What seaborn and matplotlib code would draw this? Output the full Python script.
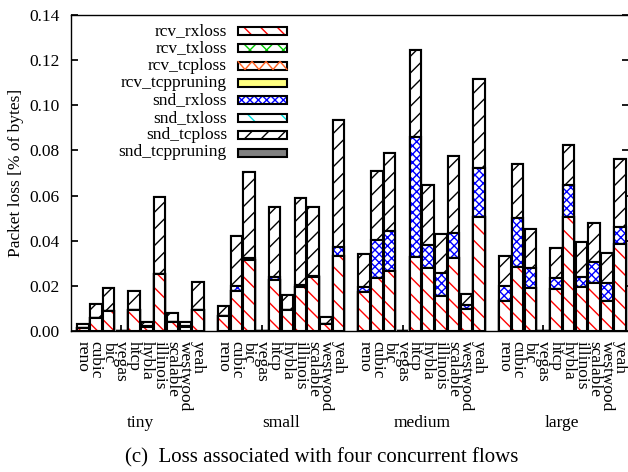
import numpy as np
import pandas as pd
import matplotlib
matplotlib.use("Agg")
import matplotlib.pyplot as plt
import matplotlib.transforms as mtransforms
from matplotlib.patches import Rectangle
from matplotlib.lines import Line2D
from matplotlib.ticker import FormatStrFormatter
import seaborn as sns

# ---------------- data ----------------
sizes = ["tiny", "small", "medium", "large"]
algorithms = ["reno", "cubic", "bic", "vegas", "htcp", "hybla",
              "illinois", "scalable", "westwood", "yeah"]

# values per (size, algorithm), size-major order (10 per size)
rcv_rxloss = [
    0.0015, 0.0058, 0.0089, 0.0, 0.0093, 0.0017, 0.0253, 0.0040, 0.0018, 0.0093,
    0.0066, 0.0178, 0.0315, 0.0, 0.0225, 0.0093, 0.0195, 0.0240, 0.0030, 0.0333,
    0.0174, 0.0236, 0.0266, 0.0, 0.0328, 0.0277, 0.0155, 0.0322, 0.0097, 0.0505,
    0.0134, 0.0284, 0.0191, 0.0, 0.0186, 0.0505, 0.0196, 0.0213, 0.0134, 0.0387,
]
rcv_txloss = [0.0] * 40
rcv_tcploss = [0.0] * 40
rcv_tcppruning = [0.0] * 40
snd_rxloss = [
    0.0, 0.0, 0.0, 0.0, 0.0, 0.0005, 0.0, 0.0, 0.0005, 0.0,
    0.0, 0.0020, 0.0010, 0.0, 0.0015, 0.0, 0.0008, 0.0003, 0.0, 0.0040,
    0.0022, 0.0166, 0.0176, 0.0, 0.0530, 0.0106, 0.0104, 0.0112, 0.0018, 0.0216,
    0.0066, 0.0218, 0.0086, 0.0, 0.0050, 0.0140, 0.0044, 0.0093, 0.0079, 0.0074,
]
snd_txloss = [0.0] * 40
snd_tcploss = [
    0.0015, 0.0062, 0.0102, 0.0, 0.0086, 0.0016, 0.0341, 0.0041, 0.0017, 0.0124,
    0.0046, 0.0222, 0.0380, 0.0, 0.0309, 0.0066, 0.0386, 0.0306, 0.0033, 0.0562,
    0.0143, 0.0306, 0.0347, 0.0, 0.0385, 0.0266, 0.0169, 0.0343, 0.0051, 0.0395,
    0.0131, 0.0239, 0.0174, 0.0, 0.0132, 0.0177, 0.0155, 0.0172, 0.0133, 0.0300,
]
snd_tcppruning = [0.0] * 40

series_names = ["rcv_rxloss", "rcv_txloss", "rcv_tcploss", "rcv_tcppruning",
                "snd_rxloss", "snd_txloss", "snd_tcploss", "snd_tcppruning"]
series_values = [rcv_rxloss, rcv_txloss, rcv_tcploss, rcv_tcppruning,
                 snd_rxloss, snd_txloss, snd_tcploss, snd_tcppruning]

# style: (face colour, hatch colour, hatch)
styles = {
    "rcv_rxloss": ("white", "#ff0000", r"\\"),
    "rcv_txloss": ("white", "#00c800", "xx"),
    "rcv_tcploss": ("white", "#ff6020", None),
    "rcv_tcppruning": ("#ffff80", "#ffff80", None),
    "snd_rxloss": ("white", "#0000ff", "xxxx"),
    "snd_txloss": ("white", "#00e0e0", "\\"),
    "snd_tcploss": ("white", "#000000", "//"),
    "snd_tcppruning": ("#808080", "#808080", None),
}

# ---------------- table ----------------
rows = []
for g, s in enumerate(sizes):
    for i, a in enumerate(algorithms):
        rows.append({"size": s, "algorithm": a, "pos": g * 11 + i})
df = pd.DataFrame(rows)
for name, vals in zip(series_names, series_values):
    df[name] = vals
cum = np.cumsum(df[series_names].to_numpy(), axis=1)
for k, name in enumerate(series_names):
    df["cum_" + name] = cum[:, k]

# ---------------- style ----------------
sns.set_theme(style="ticks")
plt.rcParams["font.family"] = ["Liberation Serif", "DejaVu Serif"]
plt.rcParams["hatch.linewidth"] = 1.0
plt.rcParams["axes.edgecolor"] = "black"
plt.rcParams["axes.linewidth"] = 1.0
FS = 12.5

W, H = 628, 472
fig = plt.figure(figsize=(W / 100, H / 100), dpi=100)
ax = fig.add_axes([71 / W, 1 - 331 / H, (629 - 71) / W, (331 - 15) / H])

OUT_LW = 1.5
for name in reversed(series_names):
    face, hc, hatch = styles[name]
    sns.barplot(data=df, x="pos", y="cum_" + name, native_scale=True,
                width=0.9, errorbar=None, ax=ax,
                color=face, facecolor=face, edgecolor=hc, hatch=hatch,
                linewidth=0)
    sns.barplot(data=df, x="pos", y="cum_" + name, native_scale=True,
                width=0.9, errorbar=None, ax=ax,
                color="black", facecolor="none", edgecolor="black",
                linewidth=OUT_LW)

ax.set_axisbelow(True)
ax.set_xlim(-0.94, 42.72)
ax.set_ylim(0, 0.14)
ax.set_yticks(np.arange(0, 0.141, 0.02))
ax.yaxis.set_major_formatter(FormatStrFormatter("%.2f"))
ax.set_xticks(df["pos"].to_numpy())
ax.set_xticklabels(df["algorithm"].tolist(), rotation=270, fontsize=FS)
ax.tick_params(axis="x", direction="in", length=4, pad=7, colors="black",
               top=False, bottom=True)
ax.tick_params(axis="y", direction="in", length=5, pad=8, labelsize=FS,
               colors="black", left=True, right=True)
ax.set_xlabel("")
ax.set_ylabel("Packet loss [% of bytes]", fontsize=FS, labelpad=4,
              color="black")
for sp in ax.spines.values():
    sp.set_visible(True)
    sp.set_color("black")

# group labels
trans = mtransforms.blended_transform_factory(ax.transData, fig.transFigure)
for g, s in enumerate(sizes):
    center = df.loc[df["size"] == s, "pos"].mean()
    ax.text(center, 1 - 423 / H, s, transform=trans, ha="center",
            va="center", fontsize=FS, color="black")

# caption
fig.text(322 / W, 1 - 458 / H, "(c)  Loss associated with four concurrent flows",
         ha="center", va="center", fontsize=15, color="black")

# legend (gnuplot style: right-aligned text, sample box to the right)
for k, name in enumerate(series_names):
    yk = 30.7 + 17.4 * k
    fig.text(227 / W, 1 - yk / H, name, ha="right", va="center",
             fontsize=FS, color="black")
    face, hc, hatch = styles[name]
    box = (238 / W, 1 - (yk + 4) / H)
    bw, bh = 49 / W, 8 / H
    fig.add_artist(Rectangle(box, bw, bh, transform=fig.transFigure,
                             facecolor=face, edgecolor=hc, hatch=hatch,
                             linewidth=0))
    if name == "rcv_tcploss":
        xs = np.linspace(238, 287, 8) / W
        ys = np.array([(yk - 4) if j % 2 == 0 else (yk + 4) for j in range(8)])
        fig.add_artist(Line2D(xs, 1 - ys / H, transform=fig.transFigure,
                              color=hc, linewidth=1.0))
    fig.add_artist(Rectangle(box, bw, bh, transform=fig.transFigure,
                             fill=False, edgecolor="black", linewidth=OUT_LW))

fig.savefig("out.png", dpi=100)
